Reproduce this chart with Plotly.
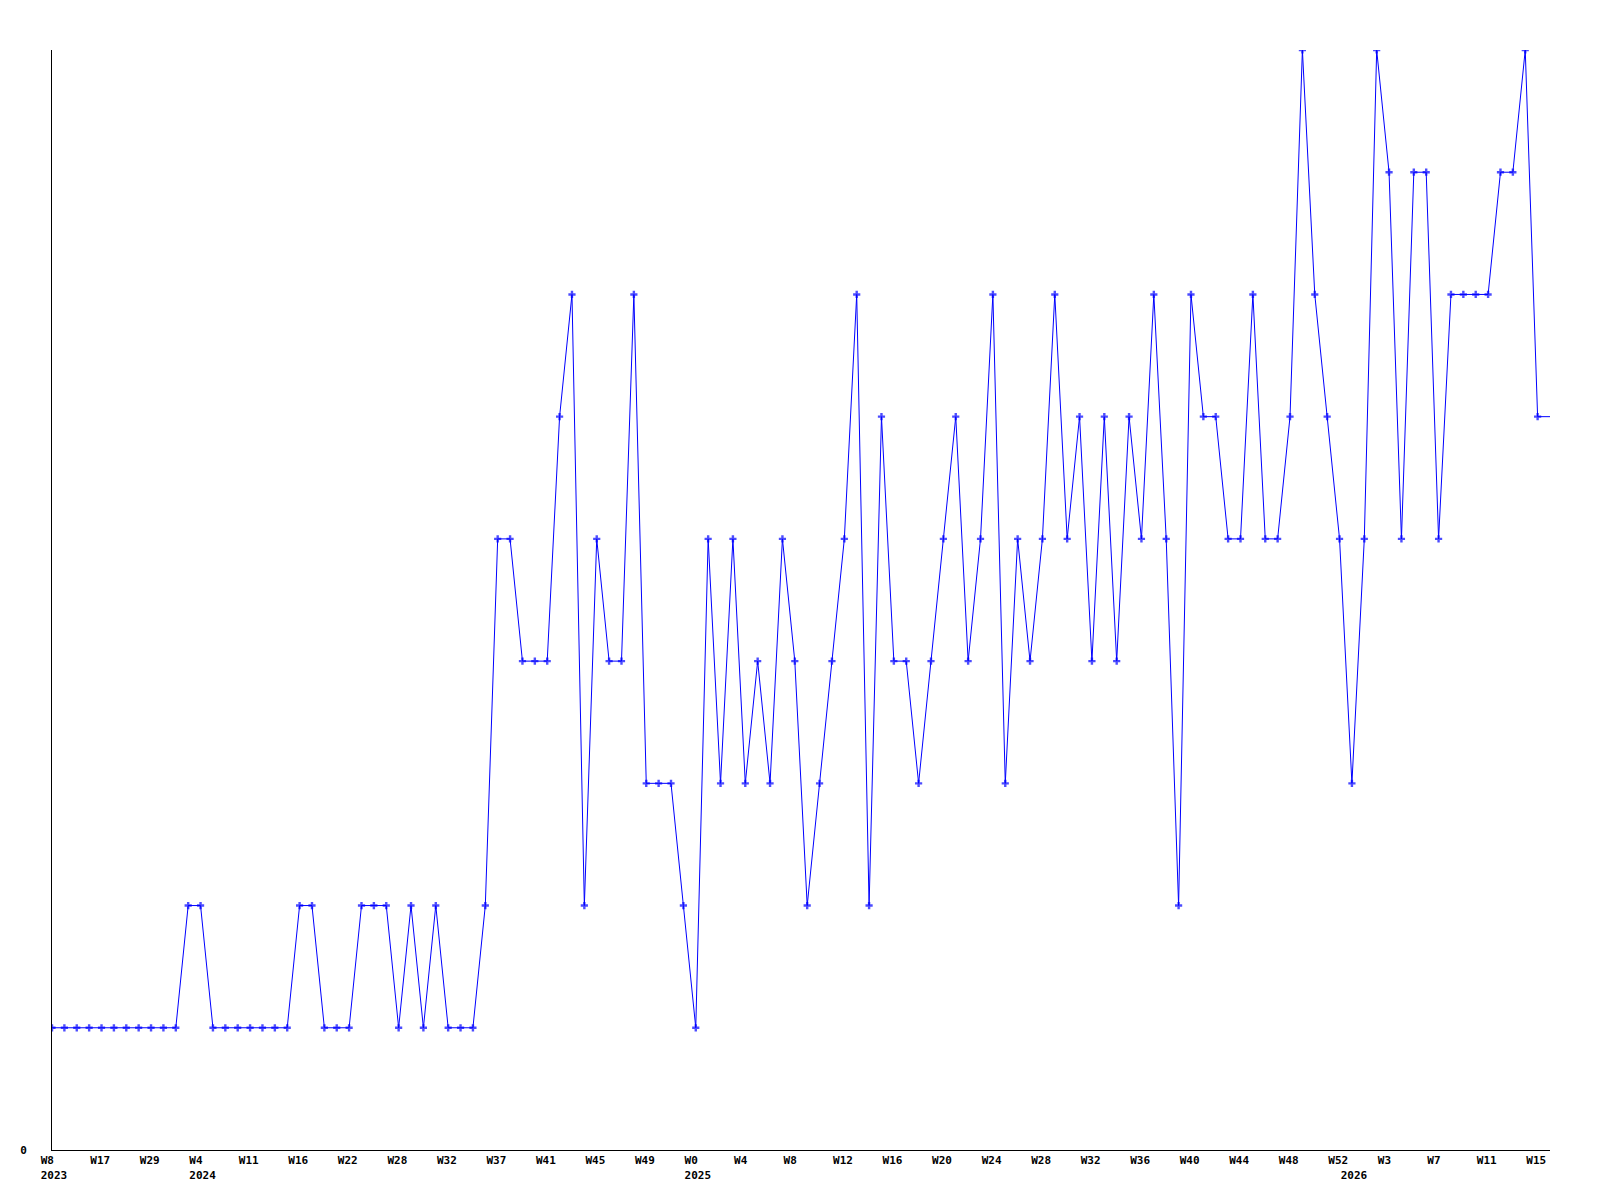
import plotly.graph_objects as go

# valeurs hebdomadaires (index = position sur l'axe)
values = [
    1, 1, 1, 1, 1, 1, 1, 1, 1, 1, 1, 2, 2, 1, 1, 1, 1, 1, 1, 1,
    2, 2, 1, 1, 1, 2, 2, 2, 1, 2, 1, 2, 1, 1, 1, 2, 5, 5, 4, 4,
    4, 6, 7, 2, 5, 4, 4, 7, 3, 3, 3, 2, 1, 5, 3, 5, 3, 4, 3, 5,
    4, 2, 3, 4, 5, 7, 2, 6, 4, 4, 3, 4, 5, 6, 4, 5, 7, 3, 5, 4,
    5, 7, 5, 6, 4, 6, 4, 6, 5, 7, 5, 2, 7, 6, 6, 5, 5, 7, 5, 5,
    6, 9, 7, 6, 5, 3, 5, 9, 8, 5, 8, 8, 5, 7, 7, 7, 7, 8, 8, 9,
    6, 6,
]

# libellés de semaine, un tous les 4 points
week_labels = ["W8", "W17", "W29", "W4", "W11", "W16", "W22", "W28", "W32",
               "W37", "W41", "W45", "W49", "W0", "W4", "W8", "W12", "W16",
               "W20", "W24", "W28", "W32", "W36", "W40", "W44", "W48", "W52",
               "W3", "W7", "W11", "W15"]
week_step = 4

# années et leur position
year_labels = ["2023", "2024", "2025", "2026"]
year_pos = [0, 12, 52, 105]

x = list(range(len(values)))

# construction des ticks (semaine sur la 1re ligne, année sur la 2e)
ticks = {}
for k, lab in enumerate(week_labels):
    ticks[k * week_step] = [lab, ""]
for pos, yr in zip(year_pos, year_labels):
    ticks.setdefault(pos, ["", ""])[1] = yr

NB = "\u00a0"
tickvals = sorted(ticks)
ticktext = []
for v in tickvals:
    wk, yr = ticks[v]
    txt = wk + NB * (4 - len(wk))
    if yr:
        txt += "<br>" + yr
    ticktext.append(txt)

# pas de marqueur sur le dernier point (prolongement)
sizes = [6] * (len(values) - 1) + [0]

fig = go.Figure()
fig.add_trace(go.Scatter(
    x=x, y=values,
    mode="lines+markers",
    line=dict(color="#0000FF", width=1),
    marker=dict(symbol="cross", size=sizes, color="#0000FF", line=dict(width=0)),
    hoverinfo="skip",
    showlegend=False,
))

police = dict(family="DejaVu Sans Mono", size=11, color="black", weight="bold")

# la page a une marge de 8px autour du graphe
fig.update_layout(
    width=1600, height=1200,
    margin=dict(l=42, r=58, t=42, b=58),
    plot_bgcolor="white",
    paper_bgcolor="white",
)
fig.update_xaxes(
    range=[0, len(values) - 1],
    tickvals=tickvals, ticktext=ticktext,
    tickangle=0,
    ticks="",
    showgrid=False, zeroline=False,
    showline=True, linecolor="black", linewidth=1,
    tickfont=police,
    ticklabelshift=2,
)
fig.update_yaxes(
    range=[0, 9],
    tickvals=[0], ticktext=["0"],
    ticks="",
    showgrid=False, zeroline=False,
    showline=True, linecolor="black", linewidth=1,
    tickfont=police,
    ticklabelstandoff=22,
)

fig.write_html("out.html")
